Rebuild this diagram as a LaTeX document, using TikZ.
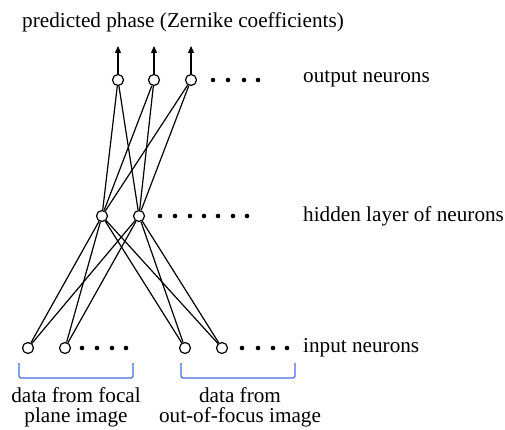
\documentclass[tikz,border=0pt]{standalone}
\usepackage{fontspec}
\setmainfont{Liberation Serif}
\newfontfamily\labelfont{Liberation Serif}
\usetikzlibrary{arrows.meta}
\definecolor{bracketblue}{RGB}{66,110,228}
\begin{document}
\begin{tikzpicture}[x=1pt,y=-1pt,
  neuron/.style={circle,draw,fill=white,line width=1.2pt,minimum size=11pt,inner sep=0pt},
  link/.style={line width=1.2pt},
  lbl/.style={font=\labelfont\fontsize{21.2}{25}\selectfont,inner sep=0pt},
  dotmark/.style={fill=black},
  brace/.style={draw=bracketblue,line width=1.2pt,rounded corners=2pt}]
\useasboundingbox (0,0) rectangle (505,430);

% output layer
\node[neuron] (o1) at (118,80) {};
\node[neuron] (o2) at (154,80) {};
\node[neuron] (o3) at (191,80) {};
% hidden layer
\node[neuron] (h1) at (102,216) {};
\node[neuron] (h2) at (139,216) {};
% input layer
\node[neuron] (i1) at (28,348) {};
\node[neuron] (i2) at (65,348) {};
\node[neuron] (i3) at (185,348) {};
\node[neuron] (i4) at (222,348) {};

% weights between layers
\foreach \o in {o1,o2,o3}
  \foreach \h in {h1,h2}
    \draw[link] (\o) -- (\h);
\foreach \h in {h1,h2}
  \foreach \i in {i1,i2,i3,i4}
    \draw[link] (\h) -- (\i);

% outputs
\foreach \o/\x in {o1/118,o2/154,o3/191}{
  \coordinate (\o tip) at (\x,46);
  \draw[link,-{Triangle[length=7pt,width=6pt]}] (\o.north) -- (\o tip);
}

% ellipsis dots
\foreach \x in {213,228,244,258} \fill[dotmark] (\x,80) circle (2.3);
\foreach \x in {160,175,190,204,218,233,247} \fill[dotmark] (\x,216) circle (2.3);
\foreach \x in {82,97,112,126,242,258,273,287} \fill[dotmark] (\x,348) circle (2.3);

% brackets under the two input groups
\draw[brace] (19,363) -- (19,378) -- (133,378) -- (133,363);
\draw[brace] (181,363) -- (181,378) -- (295,378) -- (295,363);

% labels
\node[lbl,anchor=base west] (tpred) at (22,28) {predicted phase (Zernike coefficients)};
\node[lbl,anchor=base west] (tout) at (303,83) {output neurons};
\node[lbl,anchor=base west] (thid) at (303,222) {hidden layer of neurons};
\node[lbl,anchor=base west] (tin) at (303,352) {input neurons};
\node[lbl,anchor=base] (tf1) at (76,402) {data from focal};
\node[lbl,anchor=base] (tf2) at (76,422) {plane image};
\node[lbl,anchor=base] (td1) at (240,402) {data from};
\node[lbl,anchor=base] (td2) at (240,422) {out-of-focus image};
\end{tikzpicture}
\end{document}
